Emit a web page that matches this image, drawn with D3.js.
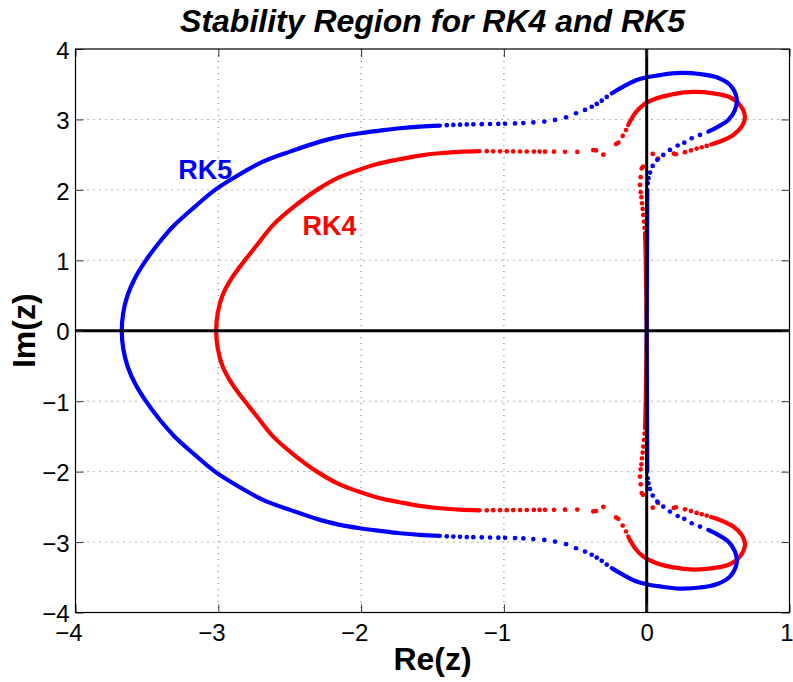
<!DOCTYPE html>
<html><head><meta charset="utf-8">
<script src="https://cdn.jsdelivr.net/npm/d3@7"></script>
<style>body{margin:0;background:#fff}svg{display:block}</style>
</head><body>
<svg id="chart" width="793" height="682"></svg>
<script>
// ---------- data ----------
const xTickValues = [-4, -3, -2, -1, 0, 1];
const yTickValues = [-4, -3, -2, -1, 0, 1, 2, 3, 4];
const titleText = "Stability Region for RK4 and RK5";
const xLabel = "Re(z)";
const yLabel = "Im(z)";
const seriesNames = ["RK4", "RK5"];

// RK4 boundary (red)
const rk4Main = [[-1.17,2.549],[-1.31,2.539],[-1.45,2.52],[-1.59,2.487],[-1.73,2.435],[-1.882,2.37],[-2.022,2.28],[-2.162,2.17],[-2.309,2.0],[-2.477,1.75],[-2.617,1.5],[-2.736,1.2],[-2.814,1.0],[-2.905,0.75],[-2.971,0.5],[-3.004,0.25],[-3.015,0],[-3.004,-0.25],[-2.971,-0.5],[-2.905,-0.75],[-2.814,-1.0],[-2.736,-1.2],[-2.617,-1.5],[-2.477,-1.75],[-2.309,-2.0],[-2.162,-2.17],[-2.022,-2.28],[-1.882,-2.37],[-1.73,-2.435],[-1.59,-2.487],[-1.45,-2.52],[-1.31,-2.539],[-1.17,-2.549]];
const rk4EarUpper = [[-0.13,2.92],[-0.117,2.97],[-0.082,3.088],[-0.024,3.206],[0.07,3.30],[0.186,3.36],[0.327,3.39],[0.466,3.37],[0.583,3.315],[0.653,3.206],[0.688,3.04],[0.665,2.898],[0.606,2.78],[0.513,2.686],[0.45,2.645]];
const rk4EarLower = [[-0.13,-2.92],[-0.117,-2.97],[-0.082,-3.088],[-0.024,-3.206],[0.07,-3.30],[0.186,-3.36],[0.327,-3.39],[0.466,-3.37],[0.583,-3.315],[0.653,-3.206],[0.688,-3.04],[0.665,-2.898],[0.606,-2.78],[0.513,-2.686],[0.45,-2.645]];
const rk4Axis = [[-0.012,1.386],[-0.009,1.2],[-0.006,0.9],[-0.004,0.6],[-0.002,0.3],[0,0],[-0.002,-0.3],[-0.004,-0.6],[-0.006,-0.9],[-0.009,-1.2],[-0.012,-1.386]];
const rk4DotsUpper = [[-1.12,2.549],[-1.075,2.548],[-1.027,2.548],[-0.98,2.547],[-0.935,2.546],[-0.887,2.545],[-0.84,2.545],[-0.79,2.544],[-0.75,2.544],[-0.712,2.543],[-0.649,2.543],[-0.572,2.54],[-0.486,2.539],[-0.374,2.565],[-0.355,2.56],[-0.304,2.50],[-0.215,2.65],[-0.199,2.67],[-0.168,2.766],[-0.145,2.85],
  [0.42,2.624],[0.385,2.605],[0.35,2.586],[0.31,2.56],[0.268,2.535],[0.205,2.506],[0.19,2.515],[0.08,2.445],[0.042,2.51],[-0.026,2.33],[-0.035,2.305],[-0.042,2.18],[-0.047,2.07],[-0.042,1.967],[-0.037,1.896],[-0.033,1.81],[-0.028,1.73],[-0.024,1.645],[-0.019,1.55],[-0.015,1.46]];
const rk4DotsLower = [[-1.12,-2.549],[-1.075,-2.548],[-1.027,-2.548],[-0.98,-2.547],[-0.935,-2.546],[-0.887,-2.545],[-0.84,-2.545],[-0.79,-2.544],[-0.75,-2.544],[-0.712,-2.543],[-0.649,-2.543],[-0.572,-2.54],[-0.486,-2.539],[-0.374,-2.565],[-0.355,-2.56],[-0.304,-2.50],[-0.215,-2.65],[-0.199,-2.67],[-0.168,-2.766],[-0.145,-2.85],
  [0.42,-2.624],[0.385,-2.605],[0.35,-2.586],[0.31,-2.56],[0.268,-2.535],[0.205,-2.506],[0.19,-2.515],[0.08,-2.445],[0.042,-2.51],[-0.026,-2.33],[-0.035,-2.305],[-0.042,-2.18],[-0.047,-2.07],[-0.042,-1.967],[-0.037,-1.896],[-0.033,-1.81],[-0.028,-1.73],[-0.024,-1.645],[-0.019,-1.55],[-0.015,-1.46]];

// RK5 boundary (blue)
const rk5Main = [[-1.448,2.912],[-1.588,2.898],[-1.728,2.875],[-1.868,2.841],[-2.008,2.804],[-2.148,2.756],[-2.288,2.685],[-2.498,2.543],[-2.687,2.40],[-2.876,2.19],[-3.023,2.0],[-3.163,1.763],[-3.307,1.5],[-3.415,1.25],[-3.507,1.0],[-3.583,0.75],[-3.636,0.5],[-3.666,0.25],[-3.676,0],[-3.666,-0.25],[-3.636,-0.5],[-3.583,-0.75],[-3.507,-1.0],[-3.415,-1.25],[-3.307,-1.5],[-3.163,-1.763],[-3.023,-2.0],[-2.876,-2.19],[-2.687,-2.40],[-2.498,-2.543],[-2.288,-2.685],[-2.148,-2.756],[-2.008,-2.804],[-1.868,-2.841],[-1.728,-2.875],[-1.588,-2.898],[-1.448,-2.912]];
const rk5EarUpper = [[-0.245,3.37],[-0.164,3.466],[-0.07,3.56],[0,3.598],[0.093,3.63],[0.233,3.66],[0.373,3.645],[0.49,3.598],[0.583,3.49],[0.63,3.30],[0.618,3.135],[0.571,2.993],[0.501,2.898],[0.431,2.827]];
const rk5EarLower = [[-0.245,-3.37],[-0.164,-3.466],[-0.07,-3.56],[0,-3.598],[0.093,-3.63],[0.233,-3.66],[0.373,-3.645],[0.49,-3.598],[0.583,-3.49],[0.63,-3.30],[0.618,-3.135],[0.571,-2.993],[0.501,-2.898],[0.431,-2.827]];
const rk5Axis = [[0.004,2.0],[0.003,1.5],[0.002,1.0],[0.001,0.5],[0,0],[0.001,-0.5],[0.002,-1.0],[0.003,-1.5],[0.004,-2.0]];
const rk5DotsUpper = [[-1.40,2.918],[-1.354,2.922],[-1.307,2.926],[-1.26,2.929],[-1.214,2.931],[-1.155,2.933],[-1.097,2.935],[-1.039,2.937],[-0.992,2.939],[-0.922,2.943],[-0.864,2.949],[-0.794,2.958],[-0.717,2.969],[-0.642,2.993],[-0.565,3.03],[-0.495,3.088],[-0.432,3.135],[-0.385,3.18],[-0.35,3.22],[-0.315,3.267],[-0.28,3.32],
  [0.373,2.78],[0.315,2.733],[0.263,2.67],[0.217,2.63],[0.163,2.567],[0.116,2.496],[0.074,2.426],[0.042,2.34],[0.023,2.245],[0.012,2.166],[0.007,2.095]];
const rk5DotsLower = [[-1.40,-2.918],[-1.354,-2.922],[-1.307,-2.926],[-1.26,-2.929],[-1.214,-2.931],[-1.155,-2.933],[-1.097,-2.935],[-1.039,-2.937],[-0.992,-2.939],[-0.922,-2.943],[-0.864,-2.949],[-0.794,-2.958],[-0.717,-2.969],[-0.642,-2.993],[-0.565,-3.03],[-0.495,-3.088],[-0.432,-3.135],[-0.385,-3.18],[-0.35,-3.22],[-0.315,-3.267],[-0.28,-3.32],
  [0.373,-2.78],[0.315,-2.733],[0.263,-2.67],[0.217,-2.63],[0.163,-2.567],[0.116,-2.496],[0.074,-2.426],[0.042,-2.34],[0.023,-2.245],[0.012,-2.166],[0.007,-2.095]];

// label anchor positions in data space
const labelRK5 = [-3.28, 2.15];
const labelRK4 = [-2.41, 1.36];

// ---------- drawing ----------
(function () {
const svg = d3.select("#chart");
const mLeft = 75.5, mRight = 789.5, mTop = 49, mBottom = 612.5;
const x = d3.scaleLinear().domain([-4, 1]).range([mLeft, mRight]);
const y = d3.scaleLinear().domain([-4, 4]).range([mBottom, mTop]);
const font = "'Liberation Sans', Arial, Helvetica, sans-serif";

svg.append("rect").attr("width", 793).attr("height", 682).attr("fill", "#fff");

// grid
const grid = svg.append("g");
grid.selectAll("line.gx").data(xTickValues.filter(d => d > -4 && d < 1)).enter().append("line")
  .attr("x1", d => x(d)).attr("x2", d => x(d)).attr("y1", mTop).attr("y2", mBottom)
  .attr("stroke", "#666").attr("stroke-width", 1).attr("stroke-dasharray", "1,5");
grid.selectAll("line.gy").data(yTickValues.filter(d => d > -4 && d < 4)).enter().append("line")
  .attr("x1", mLeft).attr("x2", mRight).attr("y1", d => y(d)).attr("y2", d => y(d))
  .attr("stroke", "#666").attr("stroke-width", 1).attr("stroke-dasharray", "1,5");

const line = d3.line().x(d => x(d[0])).y(d => y(d[1])).curve(d3.curveCatmullRom.alpha(0.5));
svg.append("clipPath").attr("id", "clip").append("rect")
  .attr("x", mLeft).attr("y", mTop).attr("width", mRight - mLeft).attr("height", mBottom - mTop);
const plot = svg.append("g").attr("clip-path", "url(#clip)");

function drawSeries(lines, dots, color) {
  const g = plot.append("g");
  g.selectAll("path").data(lines).enter().append("path")
    .attr("d", line).attr("fill", "none").attr("stroke", color)
    .attr("stroke-width", 4.2).attr("stroke-linecap", "round").attr("stroke-linejoin", "round");
  g.selectAll("circle").data(dots).enter().append("circle")
    .attr("cx", d => x(d[0])).attr("cy", d => y(d[1])).attr("r", 2.35).attr("fill", color);
}
drawSeries([rk4Main, rk4EarUpper, rk4EarLower, rk4Axis], rk4DotsUpper.concat(rk4DotsLower), "#ff0000");
drawSeries([rk5Main, rk5EarUpper, rk5EarLower, rk5Axis], rk5DotsUpper.concat(rk5DotsLower), "#0000ff");

// black coordinate axes through origin
plot.append("line").attr("x1", x(0)).attr("x2", x(0)).attr("y1", mTop).attr("y2", mBottom)
  .attr("stroke", "#000").attr("stroke-width", 3);
plot.append("line").attr("x1", mLeft).attr("x2", mRight).attr("y1", y(0)).attr("y2", y(0))
  .attr("stroke", "#000").attr("stroke-width", 3);

// axes with inward ticks
const tickLen = 8;
const axB = svg.append("g").attr("transform", `translate(0,${mBottom})`)
  .call(d3.axisBottom(x).tickValues(xTickValues).tickSizeInner(-tickLen).tickSizeOuter(0).tickFormat(d3.format("d")));
const axT = svg.append("g").attr("transform", `translate(0,${mTop})`)
  .call(d3.axisTop(x).tickValues(xTickValues).tickSizeInner(-tickLen).tickSizeOuter(0).tickFormat(""));
const axL = svg.append("g").attr("transform", `translate(${mLeft},0)`)
  .call(d3.axisLeft(y).tickValues(yTickValues).tickSizeInner(-tickLen).tickSizeOuter(0).tickFormat(d3.format("d")));
const axR = svg.append("g").attr("transform", `translate(${mRight},0)`)
  .call(d3.axisRight(y).tickValues(yTickValues).tickSizeInner(-tickLen).tickSizeOuter(0).tickFormat(""));
[axB, axT, axL, axR].forEach(a => {
  a.select(".domain").remove();
  a.selectAll(".tick line").attr("stroke", "#333").attr("stroke-width", 1);
});
axB.selectAll(".tick text").attr("font-family", font).attr("font-size", 24).attr("fill", "#000")
  .attr("text-anchor", "end").attr("x", d => d === 1 ? 3.5 : 6.7).attr("y", 28.5).attr("dy", 0);
axL.selectAll(".tick text").attr("font-family", font).attr("font-size", 24).attr("fill", "#000")
  .attr("text-anchor", "end").attr("x", -6).attr("dy", "0.38em");

// frame
svg.append("rect").attr("x", mLeft).attr("y", mTop).attr("width", mRight - mLeft).attr("height", mBottom - mTop)
  .attr("fill", "none").attr("stroke", "#000").attr("stroke-width", 1.2);

// texts
svg.append("text").attr("x", (mLeft + mRight) / 2).attr("y", 32).attr("text-anchor", "middle")
  .attr("font-family", font).attr("font-size", 32).attr("font-weight", "bold").attr("font-style", "italic")
  .text(titleText);
svg.append("text").attr("x", (mLeft + mRight) / 2).attr("y", 670).attr("text-anchor", "middle")
  .attr("font-family", font).attr("font-size", 32).attr("font-weight", "bold").text(xLabel);
svg.append("text").attr("transform", `translate(35,${y(0)}) rotate(-90)`).attr("text-anchor", "middle")
  .attr("font-family", font).attr("font-size", 32).attr("font-weight", "bold").text(yLabel);
svg.append("text").attr("x", x(labelRK5[0])).attr("y", y(labelRK5[1])).attr("font-family", font)
  .attr("font-size", 27).attr("font-weight", "bold").attr("fill", "#0000ff").text(seriesNames[1]);
svg.append("text").attr("x", x(labelRK4[0])).attr("y", y(labelRK4[1])).attr("font-family", font)
  .attr("font-size", 27).attr("font-weight", "bold").attr("fill", "#ff0000").text(seriesNames[0]);
})();
</script>
</body></html>
